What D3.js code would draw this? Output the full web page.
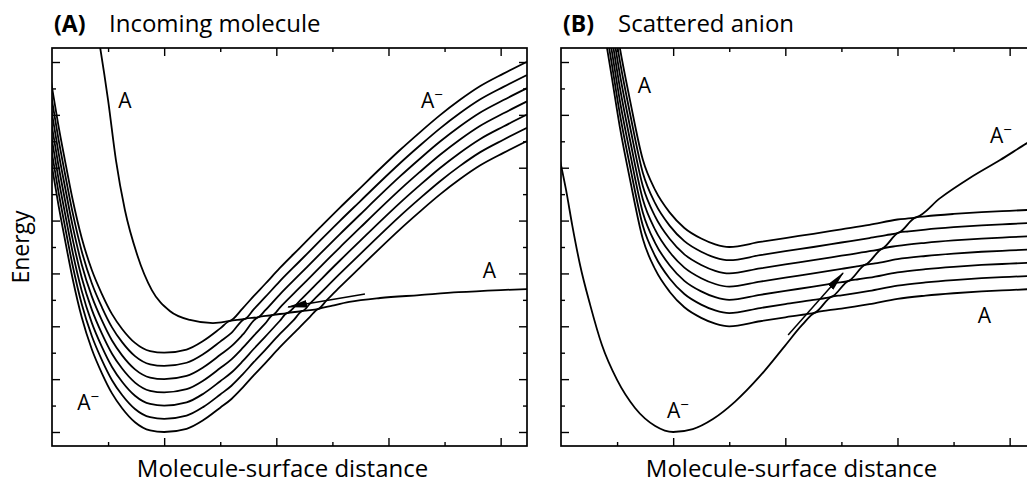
<!DOCTYPE html>
<html>
<head>
<meta charset="utf-8">
<script src="https://cdn.jsdelivr.net/npm/d3@7"></script>
<style>
  body { margin: 0; background: #fff; }
  text { font-family: "Open Sans", "Noto Sans", sans-serif; }
</style>
</head>
<body>
<svg id="viz"></svg>
<script>
// x = molecule-surface distance, y = energy, both in tick units (axes carry no numbers)
const xMajor = [2, 4, 6, 8];
const xMinor = [1, 3, 5, 7];
const yMajor = [0, 2, 4, 6, 8, 10, 12, 14];
const yMinor = [1, 3, 5, 7, 9, 11, 13];

// --- (A) incoming molecule: adiabatic curves, top to bottom ---
const aCurve1 = [[0.80,15.3],[0.86,14.53],[1.00,12.56],[1.14,10.29],[1.30,8.40],[1.52,6.70],[1.78,5.37],[2.10,4.58],[2.46,4.24],[2.87,4.12],[3.17,4.20],[3.4,4.68],[3.6,5.15],[3.8,5.60],[4.06,6.20],[4.42,6.97],[4.78,7.74],[5.13,8.48],[5.49,9.22],[5.85,9.96],[6.20,10.66],[6.56,11.34],[6.92,11.99],[7.27,12.56],[7.63,13.08],[8.05,13.56],[8.47,14.01]];
const aCurve2 = [[-0.05,13.7],[0,13.05],[0.11,11.65],[0.23,10.29],[0.37,8.78],[0.53,7.34],[0.71,6.13],[0.89,5.22],[1.07,4.46],[1.25,3.90],[1.48,3.37],[1.75,3.06],[2.0,3.0],[2.4,3.12],[2.7,3.45],[3.0,3.92],[3.17,4.20],[3.44,4.28],[3.6,4.65],[3.8,5.10],[4.06,5.70],[4.42,6.47],[4.78,7.24],[5.13,7.98],[5.49,8.72],[5.85,9.46],[6.20,10.16],[6.56,10.84],[6.92,11.49],[7.27,12.06],[7.63,12.58],[8.05,13.06],[8.47,13.51]];
const aCurve3 = [[-0.05,13.2],[0,12.55],[0.11,11.15],[0.23,9.79],[0.37,8.28],[0.53,6.84],[0.71,5.63],[0.89,4.72],[1.07,3.96],[1.25,3.40],[1.48,2.87],[1.75,2.56],[2.0,2.5],[2.4,2.62],[2.7,2.95],[3.0,3.42],[3.2,3.75],[3.44,4.28],[3.68,4.35],[3.8,4.60],[4.06,5.20],[4.42,5.97],[4.78,6.74],[5.13,7.48],[5.49,8.22],[5.85,8.96],[6.20,9.66],[6.56,10.34],[6.92,10.99],[7.27,11.56],[7.63,12.08],[8.05,12.56],[8.47,13.01]];
const aCurve4 = [[-0.05,12.7],[0,12.05],[0.11,10.65],[0.23,9.29],[0.37,7.78],[0.53,6.34],[0.71,5.13],[0.89,4.22],[1.07,3.46],[1.25,2.90],[1.48,2.37],[1.75,2.06],[2.0,2.0],[2.4,2.12],[2.7,2.45],[3.0,2.92],[3.2,3.25],[3.4,3.68],[3.68,4.35],[3.94,4.43],[4.06,4.70],[4.42,5.47],[4.78,6.24],[5.13,6.98],[5.49,7.72],[5.85,8.46],[6.20,9.16],[6.56,9.84],[6.92,10.49],[7.27,11.06],[7.63,11.58],[8.05,12.06],[8.47,12.51]];
const aCurve5 = [[-0.05,12.2],[0,11.55],[0.11,10.15],[0.23,8.79],[0.37,7.28],[0.53,5.84],[0.71,4.63],[0.89,3.72],[1.07,2.96],[1.25,2.40],[1.48,1.87],[1.75,1.56],[2.0,1.5],[2.4,1.62],[2.7,1.95],[3.0,2.42],[3.2,2.75],[3.4,3.18],[3.6,3.65],[3.8,4.10],[3.94,4.43],[4.19,4.50],[4.42,4.97],[4.78,5.74],[5.13,6.48],[5.49,7.22],[5.85,7.96],[6.20,8.66],[6.56,9.34],[6.92,9.99],[7.27,10.56],[7.63,11.08],[8.05,11.56],[8.47,12.01]];
const aCurve6 = [[-0.05,11.7],[0,11.05],[0.11,9.65],[0.23,8.29],[0.37,6.78],[0.53,5.34],[0.71,4.13],[0.89,3.22],[1.07,2.46],[1.25,1.90],[1.48,1.37],[1.75,1.06],[2.0,1.0],[2.4,1.12],[2.7,1.45],[3.0,1.92],[3.2,2.25],[3.4,2.68],[3.6,3.15],[3.8,3.60],[4.06,4.20],[4.19,4.50],[4.47,4.58],[4.6,4.86],[4.78,5.24],[5.13,5.98],[5.49,6.72],[5.85,7.46],[6.20,8.16],[6.56,8.84],[6.92,9.49],[7.27,10.06],[7.63,10.58],[8.05,11.06],[8.47,11.51]];
const aCurve7 = [[-0.05,11.2],[0,10.55],[0.11,9.15],[0.23,7.79],[0.37,6.28],[0.53,4.84],[0.71,3.63],[0.89,2.72],[1.07,1.96],[1.25,1.40],[1.48,0.87],[1.75,0.56],[2.0,0.5],[2.4,0.62],[2.7,0.95],[3.0,1.42],[3.2,1.75],[3.4,2.18],[3.6,2.65],[3.8,3.10],[4.06,3.70],[4.3,4.21],[4.47,4.58],[4.74,4.65],[4.9,4.99],[5.13,5.48],[5.49,6.22],[5.85,6.96],[6.20,7.66],[6.56,8.34],[6.92,8.99],[7.27,9.56],[7.63,10.08],[8.05,10.56],[8.47,11.01]];
const aCurve8 = [[-0.05,10.7],[0,10.05],[0.11,8.65],[0.23,7.29],[0.37,5.78],[0.53,4.34],[0.71,3.13],[0.89,2.22],[1.07,1.46],[1.25,0.90],[1.48,0.37],[1.75,0.06],[2.0,0],[2.4,0.12],[2.7,0.45],[3.0,0.92],[3.2,1.25],[3.4,1.68],[3.6,2.15],[3.8,2.60],[4.06,3.20],[4.42,3.97],[4.6,4.36],[4.74,4.65],[5.0,4.78],[5.3,4.92],[5.85,5.07],[6.55,5.18],[7.25,5.29],[8.0,5.37],[8.47,5.41]];
const aArrow = [[5.58,5.22],[4.21,4.73]];

// --- (B) scattered anion ---
const bCurve1 = [[0.80,17.8],[0.90,16.5],[1.05,14.53],[1.23,12.56],[1.46,10.3],[1.68,9.15],[1.94,8.3],[2.2,7.72],[2.5,7.32],[2.75,7.1],[3.0,7.0],[3.55,7.19],[4.0,7.34],[4.5,7.50],[5.0,7.67],[5.5,7.84],[6.0,8.04],[6.33,8.12],[6.76,8.85],[7.29,9.61],[7.83,10.29],[8.31,10.93],[8.6,11.3]];
const bCurve2 = [[0.80,17.3],[0.90,16.0],[1.05,14.03],[1.23,12.06],[1.46,9.8],[1.68,8.65],[1.94,7.8],[2.2,7.22],[2.5,6.82],[2.75,6.6],[3.0,6.5],[3.55,6.69],[4.0,6.84],[4.5,7.0],[5.0,7.17],[5.5,7.34],[5.8,7.45],[6.03,7.55],[6.33,8.12],[6.5,8.16],[7.0,8.25],[7.5,8.32],[8.0,8.37],[8.6,8.43]];
const bCurve3 = [[0.80,16.8],[0.90,15.5],[1.05,13.53],[1.23,11.56],[1.46,9.3],[1.68,8.15],[1.94,7.3],[2.2,6.72],[2.5,6.32],[2.75,6.1],[3.0,6.0],[3.55,6.19],[4.0,6.34],[4.5,6.5],[5.0,6.67],[5.5,6.84],[5.73,6.94],[6.03,7.55],[6.2,7.59],[6.5,7.66],[7.0,7.75],[7.5,7.82],[8.0,7.87],[8.6,7.93]];
const bCurve4 = [[0.80,16.3],[0.90,15.0],[1.05,13.03],[1.23,11.06],[1.46,8.8],[1.68,7.65],[1.94,6.8],[2.2,6.22],[2.5,5.82],[2.75,5.6],[3.0,5.5],[3.55,5.69],[4.0,5.84],[4.5,6.0],[5.0,6.17],[5.25,6.26],[5.43,6.33],[5.73,6.94],[6.0,7.04],[6.5,7.16],[7.0,7.25],[7.5,7.32],[8.0,7.37],[8.6,7.43]];
const bCurve5 = [[0.80,15.8],[0.90,14.5],[1.05,12.53],[1.23,10.56],[1.46,8.3],[1.68,7.15],[1.94,6.3],[2.2,5.72],[2.5,5.32],[2.75,5.1],[3.0,5.0],[3.55,5.19],[4.0,5.34],[4.5,5.5],[4.9,5.64],[5.13,5.72],[5.43,6.33],[5.6,6.38],[6.0,6.54],[6.5,6.66],[7.0,6.75],[7.5,6.82],[8.0,6.87],[8.6,6.93]];
const bCurve6 = [[0.80,15.3],[0.90,14.0],[1.05,12.03],[1.23,10.06],[1.46,7.8],[1.68,6.65],[1.94,5.8],[2.2,5.22],[2.5,4.82],[2.75,4.6],[3.0,4.5],[3.55,4.69],[4.0,4.84],[4.5,5.0],[4.83,5.12],[5.13,5.72],[5.3,5.78],[5.5,5.84],[6.0,6.04],[6.5,6.16],[7.0,6.25],[7.5,6.32],[8.0,6.37],[8.6,6.43]];
const bCurve7 = [[0.80,14.8],[0.90,13.5],[1.05,11.53],[1.23,9.56],[1.46,7.3],[1.68,6.15],[1.94,5.3],[2.2,4.72],[2.5,4.32],[2.75,4.1],[3.0,4.0],[3.55,4.19],[4.0,4.34],[4.35,4.45],[4.53,4.52],[4.83,5.12],[5.0,5.17],[5.5,5.34],[6.0,5.54],[6.5,5.66],[7.0,5.75],[7.5,5.82],[8.0,5.87],[8.6,5.93]];
const bCurve8 = [[-0.03,10.4],[0,10.10],[0.09,9.16],[0.20,7.83],[0.34,6.32],[0.52,4.81],[0.73,3.29],[1.0,1.97],[1.32,0.91],[1.68,0.23],[2.0,0],[2.35,0.11],[2.71,0.49],[3.10,1.14],[3.55,2.12],[3.99,3.25],[4.3,4.05],[4.53,4.52],[4.75,4.60],[5.0,4.67],[5.5,4.84],[6.0,5.04],[6.5,5.16],[7.0,5.25],[7.5,5.32],[8.0,5.37],[8.6,5.43]];
const bArrow = [[4.05,3.67],[5.03,6.02]];

// curve labels: [x, y, base text, superscript]
const aLabels = [[1.18,12.26,"A",""],[6.58,12.26,"A","−"],[7.68,5.83,"A",""],[0.45,0.83,"A","−"]];
const bLabels = [[1.37,12.83,"A",""],[7.65,10.93,"A","−"],[7.43,4.12,"A",""],[1.89,0.53,"A","−"]];

const panels = [
  { id: "A", tag: "(A)", title: "Incoming molecule", left: 52,
    curves: [aCurve1, aCurve2, aCurve3, aCurve4, aCurve5, aCurve6, aCurve7, aCurve8],
    arrow: aArrow, labels: aLabels },
  { id: "B", tag: "(B)", title: "Scattered anion", left: 561,
    curves: [bCurve1, bCurve2, bCurve3, bCurve4, bCurve5, bCurve6, bCurve7, bCurve8],
    arrow: bArrow, labels: bLabels }
];

const width = 1027, height = 484;
const plotTop = 48, plotBottom = 446, plotW = 475;

const svg = d3.select("#viz").attr("width", width).attr("height", height);

// arrowhead
svg.append("defs").append("marker")
  .attr("id", "head")
  .attr("markerUnits", "userSpaceOnUse")
  .attr("viewBox", "0 -5 20 10")
  .attr("refX", 19).attr("refY", 0)
  .attr("markerWidth", 20).attr("markerHeight", 10)
  .attr("orient", "auto")
  .append("path")
  .attr("d", "M0,-3.8L20,0L0,3.8Z")
  .attr("fill", "#000");

const y = d3.scaleLinear().domain([-0.53, 14.53]).range([plotBottom, plotTop]);

panels.forEach(p => {
  const x = d3.scaleLinear().domain([0, 8.47]).range([p.left, p.left + plotW]);
  const g = svg.append("g");

  g.append("clipPath").attr("id", "clip" + p.id)
    .append("rect")
    .attr("x", p.left).attr("y", plotTop)
    .attr("width", plotW).attr("height", plotBottom - plotTop);

  const line = d3.line()
    .x(d => x(d[0]))
    .y(d => y(d[1]))
    .curve(d3.curveMonotoneX);

  // --- curves ---
  g.append("g").attr("clip-path", `url(#clip${p.id})`)
    .selectAll("path")
    .data(p.curves)
    .join("path")
    .attr("d", line)
    .attr("fill", "none")
    .attr("stroke", "#000")
    .attr("stroke-width", 1.8);

  // --- arrow ---
  g.append("path")
    .attr("d", d3.line().x(d => x(d[0])).y(d => y(d[1]))(p.arrow))
    .attr("stroke", "#000")
    .attr("stroke-width", 1.5)
    .attr("marker-end", "url(#head)");

  // --- ticks, all pointing inward ---
  [[xMajor, 8], [xMinor, 4]].forEach(([vals, size]) => {
    g.append("g").attr("transform", `translate(0,${plotBottom})`)
      .call(d3.axisTop(x).tickValues(vals).tickSize(size).tickFormat(""));
    g.append("g").attr("transform", `translate(0,${plotTop})`)
      .call(d3.axisBottom(x).tickValues(vals).tickSize(size).tickFormat(""));
  });
  [[yMajor, 8], [yMinor, 4]].forEach(([vals, size]) => {
    g.append("g").attr("transform", `translate(${p.left},0)`)
      .call(d3.axisRight(y).tickValues(vals).tickSize(size).tickFormat(""));
    g.append("g").attr("transform", `translate(${p.left + plotW},0)`)
      .call(d3.axisLeft(y).tickValues(vals).tickSize(size).tickFormat(""));
  });
  g.selectAll(".domain").remove();
  g.selectAll(".tick line").attr("stroke-width", 1.4);

  // --- frame ---
  g.append("rect")
    .attr("x", p.left).attr("y", plotTop)
    .attr("width", plotW).attr("height", plotBottom - plotTop)
    .attr("fill", "none")
    .attr("stroke", "#000")
    .attr("stroke-width", 1.7);

  // --- curve labels ---
  p.labels.forEach(([lx, ly, base, sup]) => {
    const t = g.append("text")
      .attr("x", x(lx)).attr("y", y(ly))
      .attr("font-size", 21)
      .text(base);
    if (sup) {
      t.append("tspan").attr("dy", -8).attr("font-size", 15).text(sup);
    }
  });

  // --- titles ---
  svg.append("text")
    .attr("x", p.left + 2).attr("y", 32)
    .attr("font-size", 23).attr("font-weight", "bold")
    .text(p.tag);
  svg.append("text")
    .attr("x", p.left + 57).attr("y", 32)
    .attr("font-size", 24)
    .text(p.title);

  svg.append("text")
    .attr("x", p.left + plotW / 2 - 7).attr("y", 477)
    .attr("text-anchor", "middle")
    .attr("font-size", 24)
    .text("Molecule-surface distance");
});

svg.append("text")
  .attr("transform", `translate(29,${(plotTop + plotBottom) / 2}) rotate(-90)`)
  .attr("text-anchor", "middle")
  .attr("font-size", 23)
  .text("Energy");
</script>
</body>
</html>
